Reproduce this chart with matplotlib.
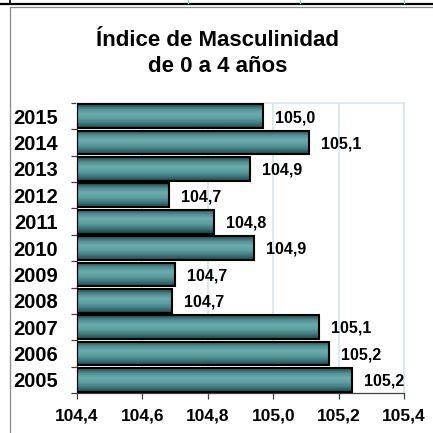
import numpy as np
import matplotlib
matplotlib.use("Agg")
import matplotlib.pyplot as plt
from matplotlib.colors import LinearSegmentedColormap
from matplotlib.lines import Line2D

plt.rcParams['font.family'] = ['Liberation Sans', 'DejaVu Sans']

# data
years = ["2005", "2006", "2007", "2008", "2009", "2010",
         "2011", "2012", "2013", "2014", "2015"]
values = [105.24, 105.17, 105.14, 104.69, 104.70, 104.94,
          104.82, 104.68, 104.93, 105.11, 104.97]
x_ticks = [104.4, 104.6, 104.8, 105.0, 105.2, 105.4]
title_1 = "Índice de Masculinidad"
title_2 = "de 0 a 4 años"

W = H = 433
fig = plt.figure(figsize=(4.33, 4.33), dpi=100)
fig.patch.set_facecolor("white")

def fx(px):
    return px / W

def fy(py):
    return 1 - py / H

# frame of the sheet (table border remnants and chart area border)
fig.add_artist(Line2D([0, 1], [fy(3.7), fy(3.7)], color="black", lw=1.6))
fig.add_artist(Line2D([fx(9.5), fx(9.5)], [fy(0), fy(3.7)], color="black", lw=1.2))
for sx in [188, 300, 404]:
    fig.add_artist(Line2D([fx(sx), fx(sx)], [fy(0), fy(2.5)], color="#a8cfd6", lw=1.0))
fig.add_artist(Line2D([fx(9.5), 1], [fy(7), fy(7)], color="#8a8a8a", lw=0.9))
fig.add_artist(Line2D([fx(9.5), fx(9.5)], [fy(7), 0], color="#8a8a8a", lw=0.9))

# title
fig.text(fx(218), fy(40), title_1, ha="center", va="center",
         fontsize=16, fontweight="bold")
fig.text(fx(218), fy(67), title_2, ha="center", va="center",
         fontsize=16, fontweight="bold")

ax = fig.add_axes([fx(77), 40 / H, 327 / W, 290 / H])
ypos = np.arange(len(years))
bars = ax.barh(ypos, np.array(values) - x_ticks[0], left=x_ticks[0], height=0.9,
               facecolor="none", edgecolor="black", linewidth=1.5, zorder=3)

# cylinder-like shading inside each bar
cmap = LinearSegmentedColormap.from_list(
    "teal", ["#1f4749", "#4f8e91", "#6cabae", "#5d9ea1", "#3e7b7e", "#1f4749"])
grad = np.linspace(0, 1, 64).reshape(-1, 1)
for b in bars:
    x0, y0 = b.get_x(), b.get_y()
    w, h = b.get_width(), b.get_height()
    im = ax.imshow(grad, cmap=cmap, aspect="auto", origin="upper",
                   extent=[x0, x0 + w, y0, y0 + h], zorder=2)
    im.set_clip_path(b)

for v, y in zip(values, ypos):
    ax.annotate(f"{v:.1f}".replace(".", ","), xy=(v, y), xytext=(8.6, -1),
                textcoords="offset points", ha="left", va="center",
                fontsize=11.5, fontweight="bold", zorder=4)

ax.set_xlim(x_ticks[0], x_ticks[-1])
ax.set_ylim(-0.5, len(years) - 0.5)
ax.set_xticks(x_ticks)
ax.set_xticklabels([f"{t:.1f}".replace(".", ",") for t in x_ticks],
                   fontsize=12.5, fontweight="bold")
ax.set_yticks(ypos)
ax.set_yticklabels(years, fontsize=14.5, fontweight="bold")
ax.set_yticks(np.arange(len(years) + 1) - 0.5, minor=True)
ax.tick_params(axis="y", which="major", length=0, pad=13.7)
ax.tick_params(axis="y", which="minor", length=4, width=0.9, color="#404040", direction="out")
ax.tick_params(axis="x", which="major", length=4, width=0.9, color="#404040",
               direction="out", pad=7)

ax.grid(axis="x", color="#d3e6ea", linewidth=1.2, zorder=0)
ax.set_axisbelow(True)
for side in ["top", "right"]:
    ax.spines[side].set_color("#d3e6ea")
    ax.spines[side].set_linewidth(1.2)
for side in ["left", "bottom"]:
    ax.spines[side].set_color("#404040")
    ax.spines[side].set_linewidth(0.9)
ax.set_facecolor("white")

fig.savefig("out.png", dpi=100)
